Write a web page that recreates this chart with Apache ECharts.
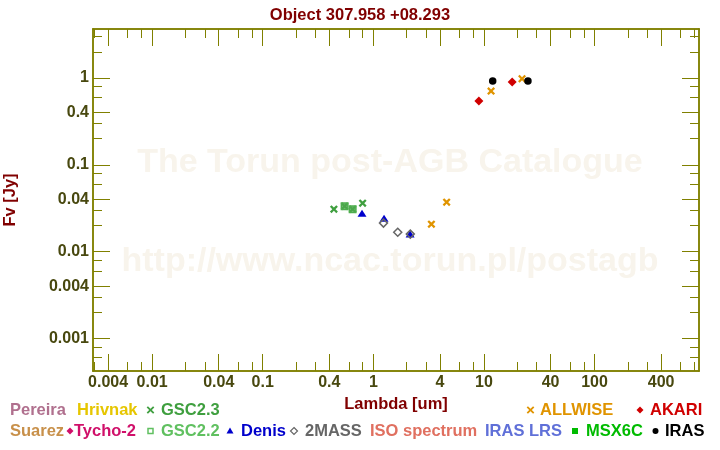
<!DOCTYPE html>
<html><head><meta charset="utf-8">
<script src="https://cdn.jsdelivr.net/npm/echarts@6/dist/echarts.min.js"></script>
<style>html,body{margin:0;padding:0;background:#fff}#c{width:720px;height:450px}</style>
</head><body><div id="c"></div>
<script>
// ---- data (wavelength in um, flux in Jy) ----
const gsc23Lam = [0.44, 0.55, 0.65, 0.80];
const gsc23Flux = [0.0308, 0.0334, 0.0308, 0.0361];
const gsc22Lam = [0.55, 0.65];
const gsc22Flux = [0.0334, 0.0308];
const denisLam = [0.79, 1.25, 2.15];
const denisFlux = [0.0277, 0.0243, 0.0159];
const massLam = [1.235, 1.662, 2.159];
const massFlux = [0.0213, 0.0167, 0.0159];
const allwiseLam = [3.35, 4.6, 11.6, 22.1];
const allwiseFlux = [0.0207, 0.0371, 0.708, 0.98];
const akariLam = [9.0, 18.0];
const akariFlux = [0.543, 0.90];
const irasLam = [12, 25];
const irasFlux = [0.923, 0.923];

// ---- ticks / labels ----
const xMajorTicks = [0.004, 0.01, 0.04, 0.1, 0.4, 1, 4, 10, 40, 100, 400];
const yMajorTicks = [0.001, 0.004, 0.01, 0.04, 0.1, 0.4, 1];
const minorMults = [2, 3, 6, 8];
const decades = [0.0001, 0.001, 0.01, 0.1, 1, 10, 100];
const minorTicks = [];
decades.forEach(d => minorMults.forEach(m => minorTicks.push(+(d * m).toPrecision(3))));

const titleText = 'Object 307.958 +08.293';
const xName = 'Lambda [um]';
const yName = 'Fv [Jy]';
const watermark1 = 'The Torun post-AGB Catalogue';
const watermark2 = 'http://www.ncac.torun.pl/postagb';

// legend entries: [label, color, marker]
const legendRow1 = [['Pereira', '#b0708e', null], ['Hrivnak', '#e6c600', null], ['GSC2.3', '#3f9f3f', 'x'],
  ['ALLWISE', '#e09400', 'x'], ['AKARI', '#d00000', 'diamond']];
const legendRow2 = [['Suarez', '#c8904a', null], ['Tycho-2', '#d0106a', 'diamond'], ['GSC2.2', '#60c060', 'rectHollow'],
  ['Denis', '#0000cc', 'triangle'], ['2MASS', '#666666', 'diamondHollow'], ['ISO spectrum', '#e07060', null],
  ['IRAS LRS', '#6070d8', null], ['MSX6C', '#00bb00', 'rect'], ['IRAS', '#000000', 'circle']];
// layout (text left x, marker centre x)
const row1Layout = [[10, null], [77, null], [161, 150.5], [540, 530.5], [650, 640]];
const row2Layout = [[10, null], [74, 70], [161, 150.5], [241, 230], [305, 294], [370, null], [485, null], [586, 575], [665, 655.5]];

function pts(l, f) { return l.map((v, i) => [v, f[i]]); }

const X_PATH = 'path://M2,0L5,3L8,0L10,2L7,5L10,8L8,10L5,7L2,10L0,8L3,5L0,2Z';
const AX = '#808000';
const LBL = '#48480f';
const FONT = '"Liberation Sans", Arial, sans-serif';
const xMin = 0.00292, xMax = 880, yMin = 0.000421, yMax = 3.67;

function fmt(v) { return String(+(+v).toPrecision(3)); }

function xAxisDef(grid, pos, ticks, len, labels) {
  return {
    type: 'log', gridIndex: grid, position: pos, min: xMin, max: xMax,
    axisLine: { show: true, onZero: false, lineStyle: { color: AX, width: 1.5 } },
    axisTick: { show: true, inside: true, length: len, customValues: ticks, lineStyle: { color: AX, width: 1 } },
    axisLabel: labels ? { show: true, customValues: xMajorTicks, formatter: fmt, margin: 4,
      color: LBL, fontWeight: 'bold', fontSize: 16, fontFamily: FONT } : { show: false },
    splitLine: { show: false }, minorTick: { show: false },
    name: (labels ? xName : ''), nameLocation: 'middle', nameGap: 24,
    nameTextStyle: { color: '#800000', fontWeight: 'bold', fontSize: 16.5, fontFamily: FONT }
  };
}
function yAxisDef(grid, pos, ticks, len, labels) {
  return {
    type: 'log', gridIndex: grid, position: pos, min: yMin, max: yMax,
    axisLine: { show: true, onZero: false, lineStyle: { color: AX, width: 1.5 } },
    axisTick: { show: true, inside: true, length: len, customValues: ticks, lineStyle: { color: AX, width: 1 } },
    axisLabel: labels ? { show: true, customValues: yMajorTicks, formatter: fmt, margin: 4,
      color: LBL, fontWeight: 'bold', fontSize: 16, fontFamily: FONT } : { show: false },
    splitLine: { show: false }, minorTick: { show: false },
    name: (labels ? yName : ''), nameLocation: 'middle', nameGap: 74, nameRotate: 90,
    nameTextStyle: { color: '#800000', fontWeight: 'bold', fontSize: 16.5, fontFamily: FONT }
  };
}

const gridRect = { left: 93, right: 21, top: 29, bottom: 79, containLabel: false, outerBoundsMode: 'none' };

const graphics = [
  { type: 'text', z: -10, x: 390, y: 163, silent: true,
    style: { text: watermark1, fill: '#f8f4ec', font: 'bold 34px ' + FONT, align: 'center', verticalAlign: 'middle' } },
  { type: 'text', z: -10, x: 390, y: 262, silent: true,
    style: { text: watermark2, fill: '#f8f4ec', font: 'bold 34px ' + FONT, align: 'center', verticalAlign: 'middle' } }
];

function marker(kind, cx, cy, color) {
  const s = 3.2;
  switch (kind) {
    case 'x': return [
      { type: 'line', shape: { x1: cx - s, y1: cy - s, x2: cx + s, y2: cy + s }, style: { stroke: color, lineWidth: 1.8 } },
      { type: 'line', shape: { x1: cx - s, y1: cy + s, x2: cx + s, y2: cy - s }, style: { stroke: color, lineWidth: 1.8 } }];
    case 'diamond': return [{ type: 'polygon', shape: { points: [[cx, cy - 3.5], [cx + 3.5, cy], [cx, cy + 3.5], [cx - 3.5, cy]] }, style: { fill: color } }];
    case 'diamondHollow': return [{ type: 'polygon', shape: { points: [[cx, cy - 3.5], [cx + 3.5, cy], [cx, cy + 3.5], [cx - 3.5, cy]] }, style: { fill: 'none', stroke: color, lineWidth: 1.2 } }];
    case 'rect': return [{ type: 'rect', shape: { x: cx - 3, y: cy - 3, width: 6, height: 6 }, style: { fill: color } }];
    case 'rectHollow': return [{ type: 'rect', shape: { x: cx - 2.5, y: cy - 2.5, width: 5, height: 5 }, style: { fill: 'none', stroke: color, lineWidth: 1.5 } }];
    case 'triangle': return [{ type: 'polygon', shape: { points: [[cx, cy - 3.5], [cx + 3.5, cy + 2.5], [cx - 3.5, cy + 2.5]] }, style: { fill: color } }];
    case 'circle': return [{ type: 'circle', shape: { cx: cx, cy: cy, r: 3 }, style: { fill: color } }];
  }
  return [];
}
function addRow(row, layout, y) {
  row.forEach((e, i) => {
    const [tx, mx] = layout[i];
    graphics.push({ type: 'text', x: tx, y: y, style: { text: e[0], fill: e[1], font: 'bold 16.5px ' + FONT, align: 'left', verticalAlign: 'middle' } });
    if (e[2] && mx != null) marker(e[2], mx, y, e[1]).forEach(g => graphics.push(g));
  });
}
addRow(legendRow1, row1Layout, 410);
addRow(legendRow2, row2Layout, 431);

const chart = echarts.init(document.getElementById('c'), null, { renderer: 'canvas' });
chart.setOption({
  animation: false,
  backgroundColor: '#ffffff',
  title: { text: titleText, left: 'center', top: 2,
    textStyle: { color: '#800000', fontWeight: 'bold', fontSize: 16.5, fontFamily: FONT } },
  grid: [Object.assign({}, gridRect), Object.assign({}, gridRect)],
  xAxis: [
    xAxisDef(0, 'bottom', xMajorTicks, 17, true),
    xAxisDef(0, 'top', xMajorTicks, 17, false),
    xAxisDef(1, 'bottom', minorTicks, 9, false),
    xAxisDef(1, 'top', minorTicks, 9, false)
  ],
  yAxis: [
    yAxisDef(0, 'left', yMajorTicks, 17, true),
    yAxisDef(0, 'right', yMajorTicks, 17, false),
    yAxisDef(1, 'left', minorTicks, 9, false),
    yAxisDef(1, 'right', minorTicks, 9, false)
  ],
  graphic: graphics,
  series: [
    { name: 'GSC2.3', type: 'scatter', data: pts(gsc23Lam, gsc23Flux), symbol: X_PATH, symbolSize: 8,
      itemStyle: { color: '#3f9f3f', opacity: 1 } },
    { name: 'GSC2.2', type: 'scatter', data: pts(gsc22Lam, gsc22Flux), symbol: 'rect', symbolSize: 6.5,
      itemStyle: { color: 'rgba(80,170,80,0.75)', borderColor: '#4fae4f', borderWidth: 1.5, opacity: 1 } },
    { name: 'Denis', type: 'scatter', data: pts(denisLam, denisFlux), symbol: 'triangle', symbolSize: [9, 7],
      itemStyle: { color: '#0000cc', opacity: 1 } },
    { name: '2MASS', type: 'scatter', data: pts(massLam, massFlux), symbol: 'diamond', symbolSize: 8,
      itemStyle: { color: 'rgba(0,0,0,0)', borderColor: '#666666', borderWidth: 1.5, opacity: 1 } },
    { name: 'ALLWISE', type: 'scatter', data: pts(allwiseLam, allwiseFlux), symbol: X_PATH, symbolSize: 8,
      itemStyle: { color: '#e09400', opacity: 1 } },
    { name: 'AKARI', type: 'scatter', data: pts(akariLam, akariFlux), symbol: 'diamond', symbolSize: 9,
      itemStyle: { color: '#d00000', opacity: 1 } },
    { name: 'IRAS', type: 'scatter', data: pts(irasLam, irasFlux), symbol: 'circle', symbolSize: 7.5,
      itemStyle: { color: '#000000', opacity: 1 } }
  ].map(s => Object.assign(s, { xAxisIndex: 0, yAxisIndex: 0, silent: true, emphasis: { disabled: true } }))
});
</script></body></html>
